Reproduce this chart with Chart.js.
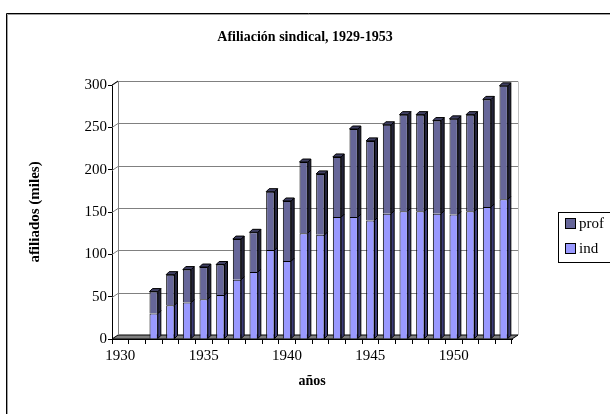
<!DOCTYPE html>
<html lang="es">
<head>
<meta charset="utf-8">
<title>Afiliación sindical, 1929-1953</title>
<script src="https://cdn.jsdelivr.net/npm/chart.js@4/dist/chart.umd.min.js"></script>
<style>
  html, body { margin: 0; padding: 0; background: #fff; }
  #grafico { display: block; }
</style>
</head>
<body>
<canvas id="grafico" width="610" height="414"></canvas>
<script>
const anos = [1930, 1931, 1932, 1933, 1934, 1935, 1936, 1937, 1938, 1939, 1940, 1941,
  1942, 1943, 1944, 1945, 1946, 1947, 1948, 1949, 1950, 1951, 1952, 1953];
const ind = [null, null, 30, 40, 43, 47, 52, 70, 79, 105, 92, 125,
  123, 144, 144, 140, 148, 151, 151, 148, 147, 151, 156, 165];
const prof = [null, null, 26, 36, 39, 38, 36, 48, 47, 69, 71, 84,
  72, 71, 104, 94, 105, 114, 114, 110, 113, 114, 127, 134];
const ticksY = [0, 50, 100, 150, 200, 250, 300];
const anosConEtiqueta = [1930, 1935, 1940, 1945, 1950];

const titulo = 'Afiliación sindical, 1929-1953';
const fuente = '"Liberation Serif", "Times New Roman", serif';

const colores = {
  ind: '#9999ff', indLado: '#3d3d7a',
  prof: '#666699', profLado: '#23233a', profTapa: '#3f3f63'
};

// desplazamiento de la pared del fondo y de la profundidad de las barras
const PARED_DX = 6, PARED_DY = 4;
const BARRA_DX = 3, BARRA_DY = 3;

function poligono(ctx, puntos) {
  ctx.beginPath();
  puntos.forEach(([px, py], i) => i ? ctx.lineTo(px, py) : ctx.moveTo(px, py));
  ctx.closePath();
  ctx.fill();
  ctx.stroke();
}

const efecto3d = {
  id: 'efecto3d',
  beforeDraw(chart) {
    const { ctx, width, height } = chart;
    ctx.save();
    ctx.fillStyle = '#fff';
    ctx.fillRect(0, 0, width, height);
    // marco exterior, cortado a la derecha y abajo como en el original
    ctx.lineWidth = 1;
    ctx.strokeStyle = '#000';
    ctx.beginPath();
    ctx.moveTo(6.5, height + 5); ctx.lineTo(6.5, 13.5); ctx.lineTo(width + 5, 13.5);
    ctx.stroke();
    ctx.strokeStyle = '#a0a0a0';
    ctx.beginPath();
    ctx.moveTo(7.5, height + 5); ctx.lineTo(7.5, 14.5); ctx.lineTo(width + 5, 14.5);
    ctx.stroke();

    ctx.fillStyle = '#000';
    ctx.font = 'bold 14px ' + fuente;
    ctx.textAlign = 'center';
    ctx.textBaseline = 'middle';
    ctx.fillText(titulo, 305, 37);
    ctx.restore();
  },
  beforeDatasetsDraw(chart) {
    const { ctx, scales: { x, y } } = chart;
    const l = x.left, r = x.right;
    const y0 = y.getPixelForValue(ticksY[0]);
    const yMax = y.getPixelForValue(ticksY[ticksY.length - 1]);
    ctx.save();
    ctx.lineWidth = 1;

    // suelo gris
    ctx.fillStyle = '#808080';
    ctx.strokeStyle = '#000';
    poligono(ctx, [[l, y0], [r, y0], [r + PARED_DX, y0 - PARED_DY], [l + PARED_DX, y0 - PARED_DY]]);

    // lineas de la pared del fondo
    ctx.strokeStyle = '#808080';
    ticksY.slice(1).forEach(v => {
      const py = Math.round(y.getPixelForValue(v) - PARED_DY) + 0.5;
      ctx.beginPath();
      ctx.moveTo(l, py + PARED_DY);
      ctx.lineTo(l + PARED_DX, py);
      ctx.lineTo(r + PARED_DX, py);
      ctx.stroke();
    });
    ctx.beginPath();
    ctx.moveTo(Math.round(l + PARED_DX) + 0.5, y0 - PARED_DY);
    ctx.lineTo(Math.round(l + PARED_DX) + 0.5, yMax - PARED_DY);
    ctx.stroke();

    ctx.strokeStyle = '#c0c0c0';
    ctx.beginPath();
    ctx.moveTo(Math.round(r + PARED_DX) + 0.5, y0 - PARED_DY);
    ctx.lineTo(Math.round(r + PARED_DX) + 0.5, Math.round(yMax - PARED_DY) + 0.5);
    ctx.stroke();

    ctx.strokeStyle = '#000';
    ctx.beginPath();
    ctx.moveTo(l, yMax);
    ctx.lineTo(l + PARED_DX, yMax - PARED_DY);
    ctx.stroke();
    ctx.restore();
  },
  afterDatasetsDraw(chart) {
    const { ctx } = chart;
    const ultimo = chart.data.datasets.length - 1;
    ctx.save();
    ctx.lineWidth = 1;
    ctx.strokeStyle = '#000';
    chart.data.datasets.forEach((ds, i) => {
      chart.getDatasetMeta(i).data.forEach((barra, j) => {
        if (ds.data[j] == null) return;
        const { x, y, base, width } = barra.getProps(['x', 'y', 'base', 'width'], true);
        const izq = x - width / 2, der = x + width / 2;
        ctx.fillStyle = ds.colorLado;
        poligono(ctx, [[der, y], [der + BARRA_DX, y - BARRA_DY], [der + BARRA_DX, base - BARRA_DY], [der, base]]);
        if (i === ultimo) {
          ctx.fillStyle = ds.colorTapa;
          poligono(ctx, [[izq, y], [izq + BARRA_DX, y - BARRA_DY], [der + BARRA_DX, y - BARRA_DY], [der, y]]);
        }
      });
    });
    ctx.restore();
  },
  afterDraw(chart) {
    const { ctx } = chart;
    ctx.save();
    ctx.lineWidth = 1;
    ctx.strokeStyle = '#000';
    ctx.strokeRect(558.5, 212.5, 70, 50);
    ctx.font = '15px ' + fuente;
    ctx.textAlign = 'left';
    ctx.textBaseline = 'middle';
    chart.data.datasets.slice().reverse().forEach((ds, i) => {
      const cy = 224 + i * 25;
      ctx.fillStyle = ds.backgroundColor;
      ctx.fillRect(565.5, cy - 5.5, 10, 10);
      ctx.strokeRect(565.5, cy - 5.5, 10, 10);
      ctx.fillStyle = '#000';
      ctx.fillText(ds.label, 579, cy);
    });
    ctx.restore();
  }
};

Chart.defaults.font.family = fuente;
Chart.defaults.color = '#000';

new Chart(document.getElementById('grafico'), {
  type: 'bar',
  data: {
    labels: anos,
    datasets: [
      { label: 'ind', data: ind, backgroundColor: colores.ind, colorLado: colores.indLado,
        borderColor: '#000', borderWidth: 1, barPercentage: 0.5, categoryPercentage: 1 },
      { label: 'prof', data: prof, backgroundColor: colores.prof, colorLado: colores.profLado,
        colorTapa: colores.profTapa, borderColor: '#000', borderWidth: 1, barPercentage: 0.5, categoryPercentage: 1 }
    ]
  },
  options: {
    responsive: false,
    animation: false,
    events: [],
    layout: { padding: { top: 85, left: 0, right: 98, bottom: 0 } },
    plugins: { legend: { display: false }, tooltip: { enabled: false } },
    scales: {
      x: {
        stacked: true,
        offset: true,
        grid: { offset: true, drawOnChartArea: false, tickLength: 5, color: '#000' },
        border: { color: '#000' },
        ticks: {
          autoSkip: false, maxRotation: 0, padding: 3, font: { size: 15 },
          callback: (v, i) => anosConEtiqueta.includes(anos[i]) ? String(anos[i]) : ''
        },
        title: { display: true, text: 'años', font: { size: 14, weight: 'bold' }, padding: { top: 0, bottom: 24 } },
        afterFit: s => { s.height = 75; }
      },
      y: {
        stacked: true,
        min: ticksY[0],
        max: ticksY[ticksY.length - 1],
        afterBuildTicks: s => { s.ticks = ticksY.map(v => ({ value: v })); },
        grid: { drawOnChartArea: false, tickLength: 4, color: '#000' },
        border: { color: '#000' },
        ticks: { padding: 1, font: { size: 15 } },
        title: { display: true, text: 'afiliados (miles)', font: { size: 15, weight: 'bold' }, padding: { top: 26, bottom: 0 } },
        afterFit: s => { s.width = 112; }
      }
    }
  },
  plugins: [efecto3d]
});
</script>
</body>
</html>
